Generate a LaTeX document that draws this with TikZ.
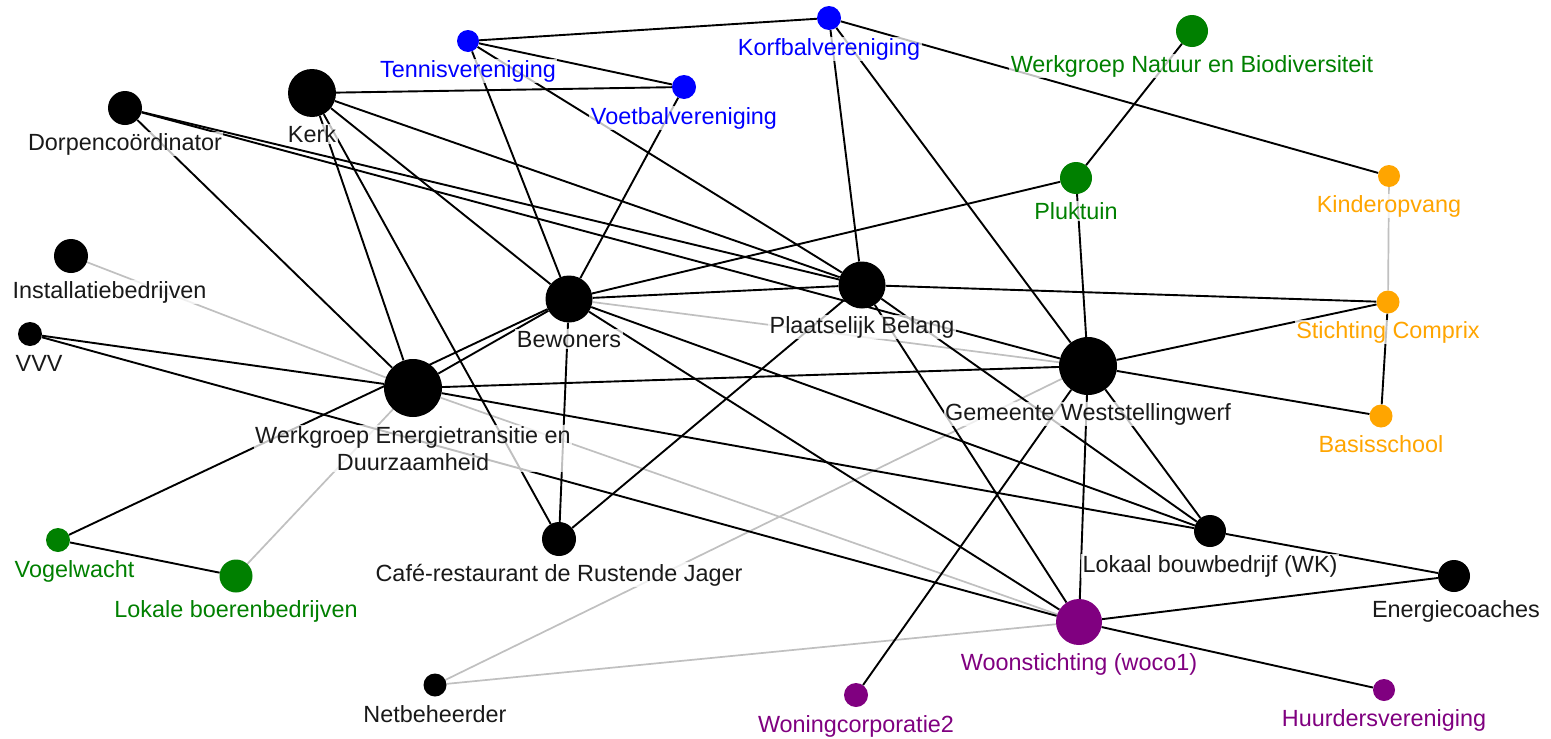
\documentclass[tikz,border=0pt]{standalone}
\usepackage{fontspec}
\setmainfont{Liberation Sans}
\pgfdeclarelayer{bg}
\pgfdeclarelayer{edges}
\pgfsetlayers{bg,edges,main}
\definecolor{cblue}{RGB}{0,0,255}
\definecolor{cgreen}{RGB}{0,128,0}
\definecolor{corange}{RGB}{255,165,0}
\definecolor{cpurple}{RGB}{128,0,128}
\definecolor{edgegray}{RGB}{192,192,192}
\definecolor{labelblack}{RGB}{25,25,25}
\tikzset{
  vtx/.style={circle, inner sep=0pt, draw=none, minimum size=#1},
  lbl/.style={anchor=base, inner sep=1.5pt, fill=white, fill opacity=0.75, text opacity=1,
              text=labelblack, font=\fontsize{23.4}{26.5}\selectfont},
  lblw/.style={lbl, anchor=base west},
  blk/.style={line width=1.9pt, black},
  gry/.style={line width=1.7pt, edgegray},
}
\begin{document}
\begin{tikzpicture}[x=1pt,y=-1pt]
\useasboundingbox (0,0) rectangle (1551,739);
\begin{pgfonlayer}{bg}
\fill[white] (0,0) rectangle (1551,739);
\end{pgfonlayer}
% vertices
\node[vtx=22pt, fill=cblue]   (tennis)   at (468,41)   {};
\node[vtx=24pt, fill=cblue]   (korfbal)  at (829,18)   {};
\node[vtx=24pt, fill=cblue]   (voetbal)  at (684,87)   {};
\node[vtx=48pt, fill=black]   (kerk)     at (312,93)   {};
\node[vtx=34pt, fill=black]   (dorpen)   at (125,108)  {};
\node[vtx=32pt, fill=cgreen]  (natuur)   at (1192,31)  {};
\node[vtx=32pt, fill=cgreen]  (pluktuin) at (1076,178) {};
\node[vtx=22pt, fill=corange] (kinder)   at (1389,176) {};
\node[vtx=34pt, fill=black]   (install)  at (71,256)   {};
\node[vtx=24pt, fill=black]   (vvv)      at (30,334)   {};
\node[vtx=47pt, fill=black]   (bewoners) at (569,299)  {};
\node[vtx=47pt, fill=black]   (pb)       at (862,285)  {};
\node[vtx=23pt, fill=corange] (comprix)  at (1388,302) {};
\node[vtx=58pt, fill=black]   (gemeente) at (1088,366) {};
\node[vtx=58pt, fill=black]   (wet)      at (413,388)  {};
\node[vtx=23pt, fill=corange] (basis)    at (1381,416) {};
\node[vtx=32pt, fill=black]   (lokaal)   at (1210,531) {};
\node[vtx=34pt, fill=black]   (cafe)     at (559,539)  {};
\node[vtx=24pt, fill=cgreen]  (vogel)    at (58,540)   {};
\node[vtx=33pt, fill=cgreen]  (boeren)   at (236,576)  {};
\node[vtx=32pt, fill=black]   (energie)  at (1454,576) {};
\node[vtx=46pt, fill=cpurple] (woonst)   at (1079,622) {};
\node[vtx=23pt, fill=black]   (netb)     at (435,685)  {};
\node[vtx=24pt, fill=cpurple] (woning2)  at (856,695)  {};
\node[vtx=22pt, fill=cpurple] (huurders) at (1384,690) {};
% edges
\begin{pgfonlayer}{edges}
\draw[gry] (install) -- (wet);
\draw[gry] (boeren) -- (wet);
\draw[gry] (bewoners) -- (gemeente);
\draw[gry] (wet) -- (woonst);
\draw[gry] (netb) -- (gemeente);
\draw[gry] (netb) -- (woonst);
\draw[gry] (kinder) -- (comprix);
\draw[blk] (tennis) -- (korfbal);
\draw[blk] (tennis) -- (voetbal);
\draw[blk] (tennis) -- (bewoners);
\draw[blk] (tennis) -- (pb);
\draw[blk] (korfbal) -- (pb);
\draw[blk] (korfbal) -- (gemeente);
\draw[blk] (korfbal) -- (kinder);
\draw[blk] (voetbal) -- (kerk);
\draw[blk] (voetbal) -- (bewoners);
\draw[blk] (kerk) -- (pb);
\draw[blk] (kerk) -- (bewoners);
\draw[blk] (kerk) -- (wet);
\draw[blk] (kerk) -- (cafe);
\draw[blk] (dorpen) -- (pb);
\draw[blk] (dorpen) -- (gemeente);
\draw[blk] (dorpen) -- (wet);
\draw[blk] (natuur) -- (pluktuin);
\draw[blk] (pluktuin) -- (bewoners);
\draw[blk] (pluktuin) -- (gemeente);
\draw[blk] (comprix) -- (pb);
\draw[blk] (comprix) -- (gemeente);
\draw[blk] (comprix) -- (basis);
\draw[blk] (gemeente) -- (basis);
\draw[blk] (vvv) -- (wet);
\draw[blk] (vvv) -- (woonst);
\draw[blk] (vogel) -- (bewoners);
\draw[blk] (vogel) -- (boeren);
\draw[blk] (bewoners) -- (pb);
\draw[blk] (bewoners) -- (lokaal);
\draw[blk] (bewoners) -- (woonst);
\draw[blk] (bewoners) -- (wet);
\draw[blk] (bewoners) -- (cafe);
\draw[blk] (pb) -- (lokaal);
\draw[blk] (pb) -- (woonst);
\draw[blk] (pb) -- (cafe);
\draw[blk] (gemeente) -- (wet);
\draw[blk] (gemeente) -- (lokaal);
\draw[blk] (gemeente) -- (woonst);
\draw[blk] (gemeente) -- (woning2);
\draw[blk] (wet) -- (lokaal);
\draw[blk] (lokaal) -- (energie);
\draw[blk] (woonst) -- (energie);
\draw[blk] (woonst) -- (huurders);
\end{pgfonlayer}
% labels
\node[lbl, text=cblue]   (tennis-l)   at (468,77)   {Tennisvereniging};
\node[lbl, text=cblue]   (korfbal-l)  at (829,55)   {Korfbalvereniging};
\node[lbl, text=cblue]   (voetbal-l)  at (684,124)  {Voetbalvereniging};
\node[lbl]               (kerk-l)     at (312,142)  {Kerk};
\node[lbl]               (dorpen-l)   at (125,150)  {Dorpencoördinator};
\node[lbl, text=cgreen]  (natuur-l)   at (1192,72)  {Werkgroep Natuur en Biodiversiteit};
\node[lbl, text=cgreen]  (pluktuin-l) at (1076,219) {Pluktuin};
\node[lbl, text=corange] (kinder-l)   at (1389,212) {Kinderopvang};
\node[lblw]              (install-l)  at (11,298)   {Installatiebedrijven};
\node[lblw]              (vvv-l)      at (14,371)   {VVV};
\node[lbl]               (bewoners-l) at (569,347)  {Bewoners};
\node[lbl]               (pb-l)       at (862,333)  {Plaatselijk Belang};
\node[lbl, text=corange] (comprix-l)  at (1388,338) {Stichting Comprix};
\node[lbl]               (gemeente-l) at (1088,420) {Gemeente Weststellingwerf};
\node[lbl, anchor=north, align=center] (wet-l) at (413,425) {Werkgroep Energietransitie en\\Duurzaamheid};
\node[lbl, text=corange] (basis-l)    at (1381,452) {Basisschool};
\node[lbl]               (lokaal-l)   at (1210,572) {Lokaal bouwbedrijf (WK)};
\node[lbl]               (cafe-l)     at (559,581)  {Café-restaurant de Rustende Jager};
\node[lblw, text=cgreen] (vogel-l)    at (13,577)   {Vogelwacht};
\node[lbl, text=cgreen]  (boeren-l)   at (236,617)  {Lokale boerenbedrijven};
\node[lbl]               (energie-l)  at (1456,617) {Energiecoaches};
\node[lbl, text=cpurple] (woonst-l)   at (1079,670) {Woonstichting (woco1)};
\node[lbl]               (netb-l)     at (435,722)  {Netbeheerder};
\node[lbl, text=cpurple] (woning2-l)  at (856,732)  {Woningcorporatie2};
\node[lbl, text=cpurple] (huurders-l) at (1384,726) {Huurdersvereniging};
\end{tikzpicture}
\end{document}
